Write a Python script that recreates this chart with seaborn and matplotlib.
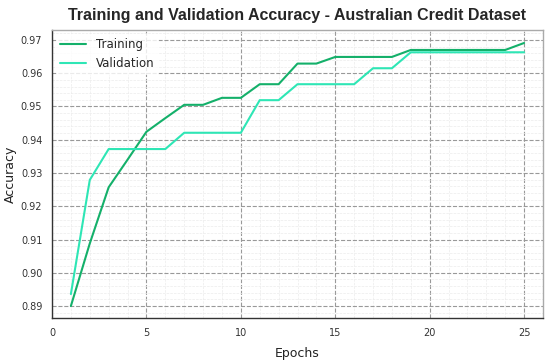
import numpy as np
import pandas as pd
import matplotlib
matplotlib.use('Agg')
import matplotlib.pyplot as plt
from matplotlib.ticker import MultipleLocator
import seaborn as sns

# Valores
epochs = list(range(1, 26))
train_acc = [0.8900, 0.9088, 0.9257, 0.9340, 0.9424, 0.9465, 0.9505, 0.9505, 0.9526, 0.9526,
             0.9567, 0.9567, 0.9629, 0.9629, 0.9649, 0.9649, 0.9649, 0.9649, 0.9670, 0.9670,
             0.9670, 0.9670, 0.9670, 0.9670, 0.9691]
val_acc = [0.8936, 0.9279, 0.9372, 0.9372, 0.9372, 0.9372, 0.9421, 0.9421, 0.9421, 0.9421,
           0.9519, 0.9519, 0.9567, 0.9567, 0.9567, 0.9567, 0.9615, 0.9615, 0.9663, 0.9663,
           0.9663, 0.9663, 0.9663, 0.9663, 0.9663]

df = pd.DataFrame({
    'Epochs': epochs * 2,
    'Accuracy': train_acc + val_acc,
    'Set': ['Training'] * len(epochs) + ['Validation'] * len(epochs),
})

sns.set_style('white')
plt.rcParams['font.family'] = ['DejaVu Sans']

fig = plt.figure(figsize=(5.5, 3.6), dpi=100)
ax = fig.add_axes([52 / 550, 1 - 318 / 360, (543 - 52) / 550, (318 - 30) / 360])

sns.lineplot(data=df, x='Epochs', y='Accuracy', hue='Set',
             palette={'Training': '#14b06a', 'Validation': '#2ee6b5'},
             linewidth=1.5, ax=ax)

ax.set_xlim(0, 26)
ax.set_ylim(0.8864, 0.973)
ax.xaxis.set_major_locator(MultipleLocator(5))
ax.xaxis.set_minor_locator(MultipleLocator(1))
ax.yaxis.set_major_locator(MultipleLocator(0.01))
ax.yaxis.set_minor_locator(MultipleLocator(0.002))
ax.yaxis.set_major_formatter(matplotlib.ticker.FormatStrFormatter('%.2f'))

ax.grid(which='major', color='#999999', linestyle='--', linewidth=0.8)
ax.grid(which='minor', color='#ececec', linestyle='--', linewidth=0.5)
ax.set_axisbelow(True)

ax.tick_params(which='major', direction='out', length=4, width=0.8, colors='#444444',
               labelsize=7, pad=3)
ax.tick_params(which='minor', direction='out', length=2, width=0.6, colors='#444444')
ax.tick_params(labelcolor='#333333')
ax.spines['left'].set_color('#333333')
ax.spines['bottom'].set_color('#333333')
ax.spines['top'].set_color('#aaaaaa')
ax.spines['right'].set_color('#aaaaaa')
for s in ax.spines.values():
    s.set_linewidth(1.0)

ax.set_xlabel('Epochs', fontsize=9, color='#222222', labelpad=7)
ax.set_ylabel('Accuracy', fontsize=9, color='#222222', labelpad=3)
ax.set_title('Training and Validation Accuracy - Australian Credit Dataset',
             fontsize=11.5, fontweight='bold', family='Liberation Sans', pad=7)

leg = ax.legend(loc='upper left', fontsize=8.5, frameon=True, borderaxespad=0.3,
                handlelength=2.2)
leg.get_frame().set_edgecolor('none')
leg.get_frame().set_facecolor('white')
leg.get_frame().set_alpha(0.8)

fig.savefig('out.png', dpi=100)
